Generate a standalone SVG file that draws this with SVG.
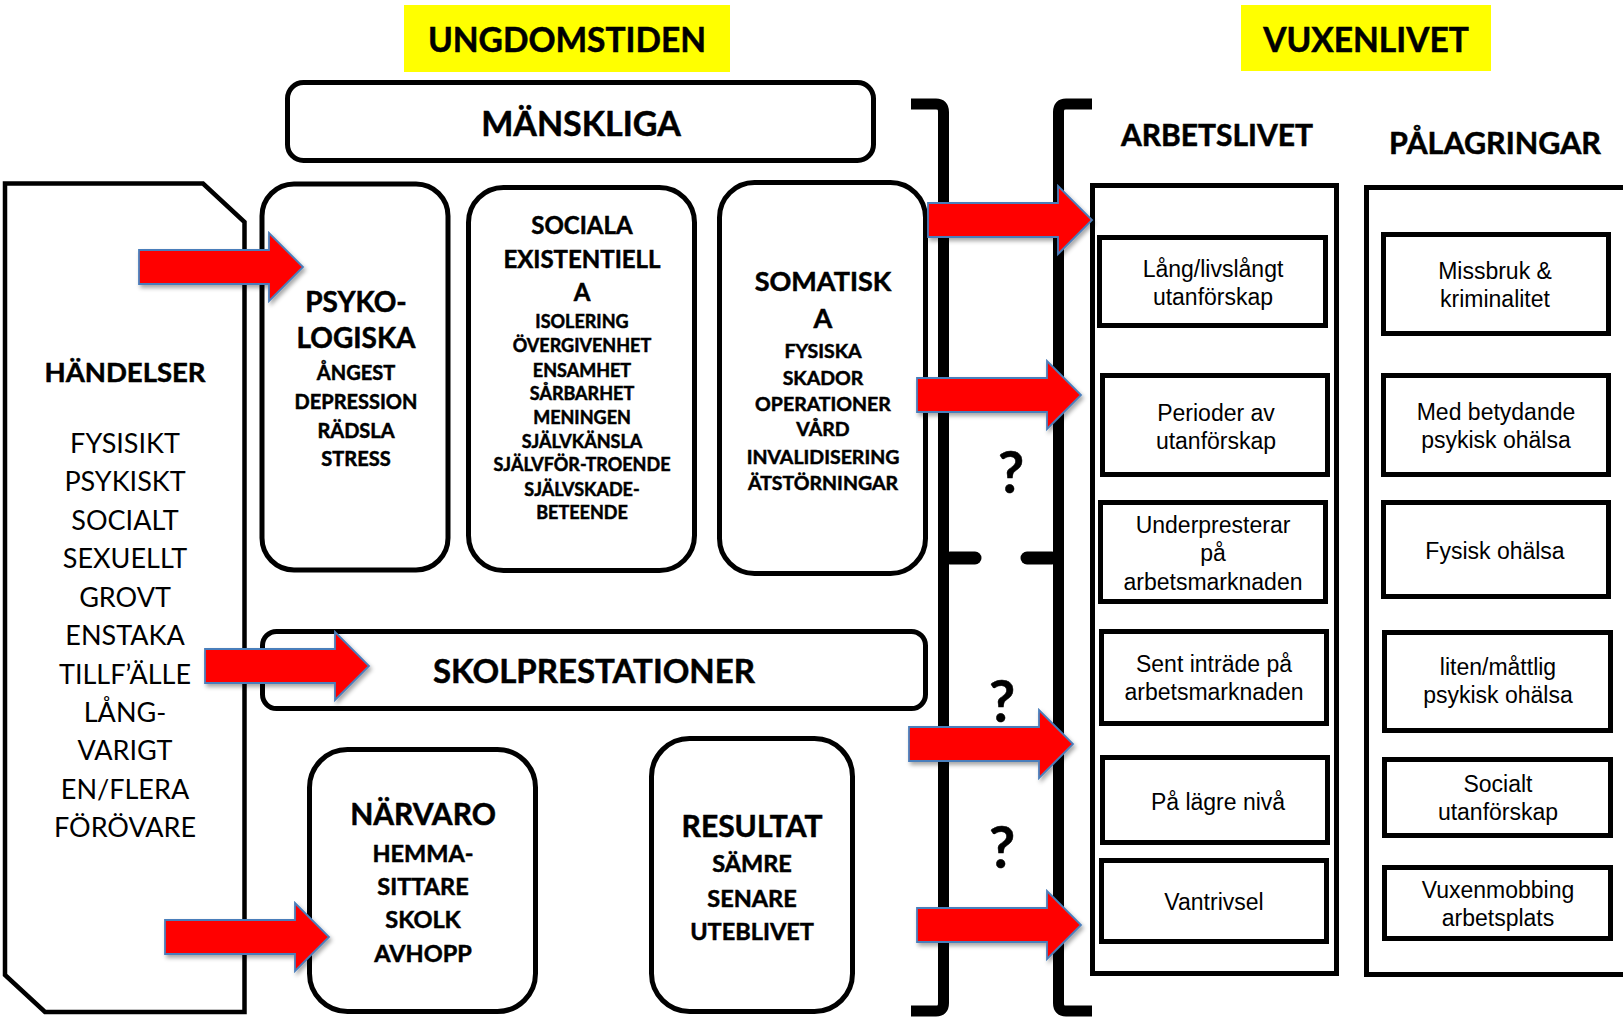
<svg xmlns="http://www.w3.org/2000/svg" width="1623" height="1017" viewBox="0 0 1623 1017">
<style>
.box{fill:#fff;stroke:#000;stroke-width:5}
.thin{fill:#fff;stroke:#000;stroke-width:4.5}
.hl{fill:#ffff00}
.c{font-family:Lato,"Liberation Sans",sans-serif;font-weight:bold;text-anchor:middle;fill:#000;stroke:#000;stroke-width:0.5}
.cr{font-family:Lato,"Liberation Sans",sans-serif;font-weight:normal;text-anchor:middle;fill:#000}
.a{font-family:"Liberation Sans",Arial,sans-serif;font-size:23px;text-anchor:middle;fill:#000}
.br{fill:none;stroke:#000;stroke-width:11}
.nub{fill:none;stroke:#000;stroke-width:13;stroke-linecap:round}
.arr{fill:#ff0000;stroke:#4a7ebb;stroke-width:1.8;stroke-linejoin:miter}
</style>
<defs>
<filter id="sh" x="-10%" y="-20%" width="130%" height="150%">
<feDropShadow dx="2" dy="3" stdDeviation="2" flood-color="#000" flood-opacity="0.35"/>
</filter>
<path id="arrow" d="M-164,-17 L-34,-17 L-34,-34 L0,0 L-34,34 L-34,17 L-164,17 Z"/>
</defs>

<g id="title-ungdom">
<rect class="hl" x="404" y="5" width="326" height="67"/>
<text class="c" x="567" y="52" font-size="33.5">UNGDOMSTIDEN</text>
</g>
<g id="title-vuxen">
<rect class="hl" x="1241" y="5" width="250" height="66"/>
<text class="c" x="1366" y="52" font-size="33.5">VUXENLIVET</text>
</g>

<g id="manskliga">
<rect class="box" x="287.5" y="82.5" width="586" height="78" rx="16"/>
<text class="c" x="581" y="136" font-size="34">MÄNSKLIGA</text>
</g>

<g id="handelser">
<path class="thin" d="M5,183.5 L203,183.5 L244.5,222 L244.5,1012 L45,1012 L5,975 Z"/>
<text class="c" x="125" y="382" font-size="27.5">HÄNDELSER</text>
<g class="cr" font-size="27">
<text x="125" y="453">FYSISIKT</text>
<text x="125" y="491">PSYKISKT</text>
<text x="125" y="530">SOCIALT</text>
<text x="125" y="568">SEXUELLT</text>
<text x="125" y="607">GROVT</text>
<text x="125" y="645">ENSTAKA</text>
<text x="125" y="684">TILLF’ÄLLE</text>
<text x="125" y="722">LÅNG-</text>
<text x="125" y="760">VARIGT</text>
<text x="125" y="799">EN/FLERA</text>
<text x="125" y="837">FÖRÖVARE</text>
</g>
</g>

<g id="psykologiska">
<rect class="box" x="262" y="184" width="186" height="386" rx="32"/>
<text class="c" x="356" y="312" font-size="28">PSYKO-</text>
<text class="c" x="356" y="348" font-size="28">LOGISKA</text>
<g class="c" font-size="20">
<text x="356" y="380">ÅNGEST</text>
<text x="356" y="409">DEPRESSION</text>
<text x="356" y="438">RÄDSLA</text>
<text x="356" y="466">STRESS</text>
</g>
</g>

<g id="sociala">
<rect class="box" x="468.5" y="187.5" width="226" height="383" rx="35"/>
<g class="c" font-size="24">
<text x="582" y="234">SOCIALA</text>
<text x="582" y="268">EXISTENTIELL</text>
<text x="582" y="301">A</text>
</g>
<g class="c" font-size="18">
<text x="582" y="328">ISOLERING</text>
<text x="582" y="352">ÖVERGIVENHET</text>
<text x="582" y="377">ENSAMHET</text>
<text x="582" y="400">SÅRBARHET</text>
<text x="582" y="424">MENINGEN</text>
<text x="582" y="448">SJÄLVKÄNSLA</text>
<text x="582" y="471">SJÄLVFÖR-TROENDE</text>
<text x="582" y="496">SJÄLVSKADE-</text>
<text x="582" y="519">BETEENDE</text>
</g>
</g>

<g id="somatiska">
<rect class="box" x="719.5" y="182.5" width="206" height="391" rx="35"/>
<g class="c" font-size="27">
<text x="823" y="291">SOMATISK</text>
<text x="823" y="328">A</text>
</g>
<g class="c" font-size="19.5">
<text x="823" y="358">FYSISKA</text>
<text x="823" y="385">SKADOR</text>
<text x="823" y="411">OPERATIONER</text>
<text x="823" y="436">VÅRD</text>
<text x="823" y="464">INVALIDISERING</text>
<text x="823" y="490">ÄTSTÖRNINGAR</text>
</g>
</g>

<g id="skolprestationer">
<rect class="box" x="262.5" y="631.5" width="663" height="77" rx="14"/>
<text class="c" x="594" y="683" font-size="33">SKOLPRESTATIONER</text>
</g>

<g id="narvaro">
<rect class="box" x="309.5" y="749.5" width="226" height="262" rx="38"/>
<text class="c" x="423" y="825" font-size="30">NÄRVARO</text>
<g class="c" font-size="23.5">
<text x="423" y="862">HEMMA-</text>
<text x="423" y="895">SITTARE</text>
<text x="423" y="928">SKOLK</text>
<text x="423" y="962">AVHOPP</text>
</g>
</g>

<g id="resultat">
<rect class="box" x="651.5" y="738.5" width="201" height="273" rx="38"/>
<text class="c" x="752" y="837" font-size="30">RESULTAT</text>
<g class="c" font-size="23.5">
<text x="752" y="872">SÄMRE</text>
<text x="752" y="907">SENARE</text>
<text x="752" y="940">UTEBLIVET</text>
</g>
</g>

<g id="arbetslivet">
<text class="c" x="1217" y="146" font-size="30">ARBETSLIVET</text>
<rect class="box" x="1092.5" y="185.5" width="244" height="788"/>
</g>
<g id="palagringar">
<text class="c" x="1495" y="154" font-size="30.5">PÅLAGRINGAR</text>
<rect class="box" x="1366.5" y="187.5" width="300" height="787"/>
</g>

<g id="a1"><rect class="box" x="1099.5" y="237.5" width="226" height="88"/>
<text class="a" x="1213" y="277">Lång/livslångt</text><text class="a" x="1213" y="305">utanförskap</text></g>
<g id="a2"><rect class="box" x="1102.5" y="375.5" width="225" height="99"/>
<text class="a" x="1216" y="421">Perioder av</text><text class="a" x="1216" y="449">utanförskap</text></g>
<g id="a3"><rect class="box" x="1100.5" y="502.5" width="225" height="99"/>
<text class="a" x="1213" y="533">Underpresterar</text><text class="a" x="1213" y="561">på</text><text class="a" x="1213" y="590">arbetsmarknaden</text></g>
<g id="a4"><rect class="box" x="1101.5" y="631.5" width="225" height="92"/>
<text class="a" x="1214" y="672">Sent inträde på</text><text class="a" x="1214" y="700">arbetsmarknaden</text></g>
<g id="a5"><rect class="box" x="1102.5" y="757.5" width="225" height="85"/>
<text class="a" x="1218" y="810">På lägre nivå</text></g>
<g id="a6"><rect class="box" x="1101.5" y="860.5" width="225" height="81"/>
<text class="a" x="1214" y="910">Vantrivsel</text></g>

<g id="p1"><rect class="box" x="1383.5" y="234.5" width="225" height="99"/>
<text class="a" x="1495" y="279">Missbruk &amp;</text><text class="a" x="1495" y="307">kriminalitet</text></g>
<g id="p2"><rect class="box" x="1383.5" y="375.5" width="225" height="99"/>
<text class="a" x="1496" y="420">Med betydande</text><text class="a" x="1496" y="448">psykisk ohälsa</text></g>
<g id="p3"><rect class="box" x="1383.5" y="502.5" width="225" height="94"/>
<text class="a" x="1495" y="559">Fysisk ohälsa</text></g>
<g id="p4"><rect class="box" x="1384.5" y="632.5" width="226" height="98"/>
<text class="a" x="1498" y="675">liten/måttlig</text><text class="a" x="1498" y="703">psykisk ohälsa</text></g>
<g id="p5"><rect class="box" x="1384.5" y="759.5" width="226" height="76"/>
<text class="a" x="1498" y="792">Socialt</text><text class="a" x="1498" y="820">utanförskap</text></g>
<g id="p6"><rect class="box" x="1384.5" y="867.5" width="226" height="71"/>
<text class="a" x="1498" y="898">Vuxenmobbing</text><text class="a" x="1498" y="926">arbetsplats</text></g>

<g id="brackets">
<path class="br" d="M911,104 L936,104 Q943.5,104 943.5,112 L943.5,1003 Q943.5,1011 936,1011 L911,1011"/>
<path class="nub" d="M950,558 L975,558"/>
<path class="br" d="M1092,104 L1066,104 Q1058.5,104 1058.5,112 L1058.5,1003 Q1058.5,1011 1066,1011 L1092,1011"/>
<path class="nub" d="M1052,558 L1027,558"/>
<g class="c" font-size="57">
<text x="1011" y="493">?</text>
<text x="1002" y="722">?</text>
<text x="1002" y="868">?</text>
</g>
</g>

<g id="connectors" filter="url(#sh)">
<use href="#arrow" class="arr" transform="translate(303,267)"/>
<use href="#arrow" class="arr" transform="translate(369,666)"/>
<use href="#arrow" class="arr" transform="translate(329,937)"/>
<use href="#arrow" class="arr" transform="translate(1092,220)"/>
<use href="#arrow" class="arr" transform="translate(1081,395)"/>
<use href="#arrow" class="arr" transform="translate(1073,744)"/>
<use href="#arrow" class="arr" transform="translate(1081,925)"/>
</g>
</svg>
